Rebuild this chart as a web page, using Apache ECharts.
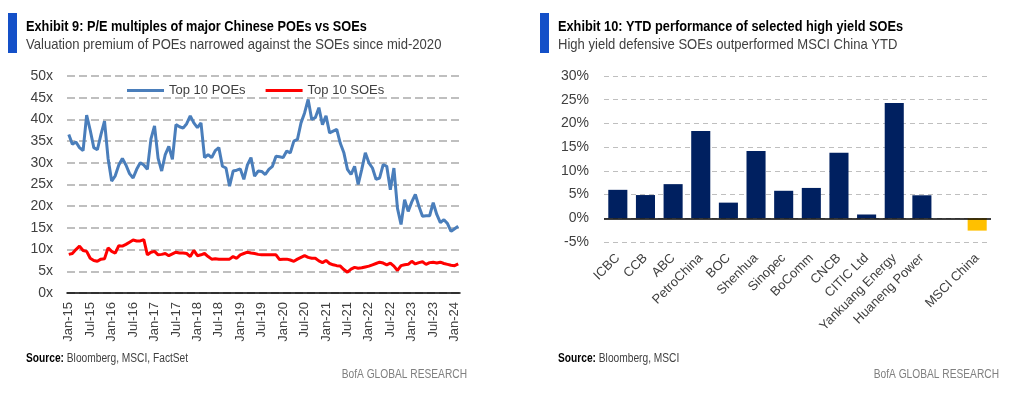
<!DOCTYPE html>
<html>
<head>
<meta charset="utf-8">
<script src="https://cdn.jsdelivr.net/npm/echarts@6/dist/echarts.min.js"></script>
<style>
  html, body { margin: 0; padding: 0; background: #fff; }
  #chart { width: 1024px; height: 399px; }
</style>
</head>
<body>
<div id="chart"></div>
<script>
// Exhibit 9: monthly P/E, Jan-15 .. Feb-24
var monthNames = ['Jan', 'Feb', 'Mar', 'Apr', 'May', 'Jun', 'Jul', 'Aug', 'Sep', 'Oct', 'Nov', 'Dec']
var startYear = 15
var poeValues = [
  36.5, 34.3, 34.8, 33.5, 32.8, 41.0, 37.5, 33.5, 33.0, 36.5, 39.6, 31.0,
  25.8, 27.0, 29.5, 31.0, 29.5, 27.5, 26.5, 28.5, 30.0, 29.5, 28.5, 35.5,
  38.5, 31.0, 28.1, 31.9, 33.8, 30.8, 38.8, 38.3, 38.0, 39.0, 40.8, 39.2,
  38.1, 39.2, 31.2, 31.9, 31.2, 32.8, 33.5, 29.2, 28.8, 24.6, 28.1, 28.3,
  28.6, 26.2, 29.5, 31.2, 26.9, 28.1, 28.0, 27.3, 28.5, 29.2, 31.5, 31.4,
  31.2, 32.7, 32.3, 35.0, 35.4, 39.2, 41.5, 44.6, 40.0, 40.4, 42.7, 38.8,
  40.8, 36.9, 37.3, 37.7, 34.5, 32.3, 28.5, 27.3, 29.2, 25.0, 28.5, 32.3,
  30.0, 28.8, 26.2, 26.5, 29.6, 29.2, 23.8, 28.8, 19.5, 15.8, 21.5, 18.8,
  21.0, 22.7, 20.0, 17.7, 17.8, 17.8, 20.8, 18.1, 16.2, 16.9, 16.0, 14.2,
  14.8, 15.4
]
var soeValues = [
  8.9, 9.1, 10.0, 10.8, 9.8, 9.6, 8.0, 7.5, 7.3, 7.8, 7.9, 10.4,
  9.6, 9.2, 10.9, 10.8, 11.2, 11.7, 12.2, 12.0, 12.0, 12.3, 8.8, 9.4,
  9.6, 8.8, 8.9, 9.1, 8.6, 9.0, 9.4, 9.2, 9.2, 9.1, 8.4, 9.8,
  8.6, 8.8, 9.1, 8.4, 7.8, 7.9, 7.8, 7.8, 7.8, 7.8, 8.4, 8.0,
  8.8, 9.1, 9.4, 9.2, 9.1, 8.9, 8.8, 8.8, 8.8, 8.8, 8.8, 7.7,
  7.8, 7.8, 7.6, 7.3, 7.8, 8.2, 8.6, 8.2, 8.0, 8.0, 7.4, 7.0,
  7.5, 6.8, 6.5, 6.3, 6.2, 5.4, 4.8, 5.5, 5.9, 5.7, 5.8, 6.0,
  6.2, 6.5, 6.8, 7.1, 6.9, 6.5, 6.9, 6.2, 5.2, 6.3, 6.5, 6.6,
  7.3, 6.7, 7.0, 7.2, 6.6, 7.0, 7.1, 6.9, 7.1, 6.8, 6.6, 6.4,
  6.3, 6.7
]
var months = poeValues.map(function (v, i) {
  return monthNames[i % 12] + '-' + (startYear + Math.floor(i / 12))
})

// Exhibit 10: YTD performance (%)
var stocks = ['ICBC', 'CCB', 'ABC', 'PetroChina', 'BOC', 'Shenhua', 'Sinopec', 'BoComm',
  'CNCB', 'CITIC Ltd', 'Yankuang Energy', 'Huaneng Power', '', 'MSCI China']
var ytdValues = [6.0, 4.9, 7.2, 18.4, 3.3, 14.2, 5.8, 6.4, 13.8, 0.8, 24.3, 4.85, null, -2.6]

var FONT = '"Liberation Sans", sans-serif'
var NARROW = 0.85 // squeeze header text, the original face is condensed
var chart = echarts.init(document.getElementById('chart'))

var gridLine = { show: true, lineStyle: { color: '#bfbfbf', type: [8, 4], width: 2 } }
var richSource = { b: { fontWeight: 'bold', fontSize: 12, fill: '#000', fontFamily: FONT } }

chart.setOption({
  animation: false,
  textStyle: { fontFamily: FONT },
  grid: [
    { left: 67, top: 76, width: 393, height: 217 },
    { left: 604, top: 76, width: 387, height: 166 }
  ],
  legend: {
    left: 122, top: 79, icon: 'rect',
    itemWidth: 37, itemHeight: 3, itemGap: 20, itemStyle: { borderWidth: 0 },
    textStyle: { fontSize: 13, color: '#404040', fontFamily: FONT },
    data: ['Top 10 POEs', 'Top 10 SOEs']
  },
  xAxis: [
    {
      type: 'category', gridIndex: 0, data: months, boundaryGap: true,
      axisLine: { lineStyle: { color: '#000', width: 1.5 } },
      axisTick: { show: false },
      axisLabel: { interval: 5, rotate: 90, fontSize: 13, color: '#404040', margin: 9 }
    },
    {
      type: 'category', gridIndex: 1, data: stocks,
      axisLine: { show: false, onZero: false },
      axisTick: { show: false },
      axisLabel: { interval: 0, rotate: 45, fontSize: 13, color: '#404040', margin: 14 }
    }
  ],
  yAxis: [
    {
      type: 'value', gridIndex: 0, min: 0, max: 50, interval: 5,
      axisLine: { show: false }, axisTick: { show: false },
      axisLabel: { formatter: '{value}x', fontSize: 14, color: '#404040', margin: 14 },
      splitLine: gridLine
    },
    {
      type: 'value', gridIndex: 1, min: -5, max: 30, interval: 5,
      axisLine: { show: false }, axisTick: { show: false },
      axisLabel: { formatter: '{value}%', fontSize: 14, color: '#404040', margin: 15 },
      splitLine: { show: true, lineStyle: { color: '#bfbfbf', type: [5, 4], width: 1.2 } }
    }
  ],
  series: [
    {
      name: 'Top 10 POEs', type: 'line', xAxisIndex: 0, yAxisIndex: 0,
      data: poeValues, symbol: 'none', color: '#4a7ebb',
      lineStyle: { width: 3, color: '#4a7ebb' }
    },
    {
      name: 'Top 10 SOEs', type: 'line', xAxisIndex: 0, yAxisIndex: 0,
      data: soeValues, symbol: 'none', color: '#ff0000',
      lineStyle: { width: 3, color: '#ff0000' }
    },
    {
      name: 'YTD', type: 'bar', xAxisIndex: 1, yAxisIndex: 1,
      barCategoryGap: '31%',
      data: ytdValues.map(function (v, i) {
        return { value: v, itemStyle: { color: stocks[i] === 'MSCI China' ? '#ffc000' : '#002060' } }
      }),
      markLine: {
        silent: true, symbol: 'none', label: { show: false },
        lineStyle: { color: '#000', type: 'solid', width: 1.5 },
        data: [{ yAxis: 0 }]
      }
    }
  ],
  graphic: [
    { type: 'rect', shape: { x: 8, y: 13, width: 9, height: 40 }, style: { fill: '#1450c8' } },
    { type: 'text', x: 26, y: 19, scaleX: NARROW, style: { text: 'Exhibit 9: P/E multiples of major Chinese POEs vs SOEs', font: 'bold 15px ' + FONT, fill: '#000' } },
    { type: 'text', x: 26, y: 37, scaleX: 0.87, style: { text: 'Valuation premium of POEs narrowed against the SOEs since mid-2020', font: '15px ' + FONT, fill: '#404040' } },
    { type: 'rect', shape: { x: 540, y: 13, width: 9, height: 40 }, style: { fill: '#1450c8' } },
    { type: 'text', x: 558, y: 19, scaleX: NARROW, style: { text: 'Exhibit 10: YTD performance of selected high yield SOEs', font: 'bold 15px ' + FONT, fill: '#000' } },
    { type: 'text', x: 558, y: 37, scaleX: 0.87, style: { text: 'High yield defensive SOEs outperformed MSCI China YTD', font: '15px ' + FONT, fill: '#404040' } },
    {
      type: 'text', x: 26, y: 353, scaleX: NARROW,
      style: { text: '{b|Source:} Bloomberg, MSCI, FactSet', fill: '#404040', font: '12px ' + FONT, rich: richSource }
    },
    { type: 'text', x: 467, y: 369, scaleX: NARROW, style: { text: 'BofA GLOBAL RESEARCH', align: 'right', font: '12px ' + FONT, fill: '#7f7f7f' } },
    {
      type: 'text', x: 558, y: 353, scaleX: NARROW,
      style: { text: '{b|Source:} Bloomberg, MSCI', fill: '#404040', font: '12px ' + FONT, rich: richSource }
    },
    { type: 'text', x: 999, y: 369, scaleX: NARROW, style: { text: 'BofA GLOBAL RESEARCH', align: 'right', font: '12px ' + FONT, fill: '#7f7f7f' } }
  ]
})
</script>
</body>
</html>
